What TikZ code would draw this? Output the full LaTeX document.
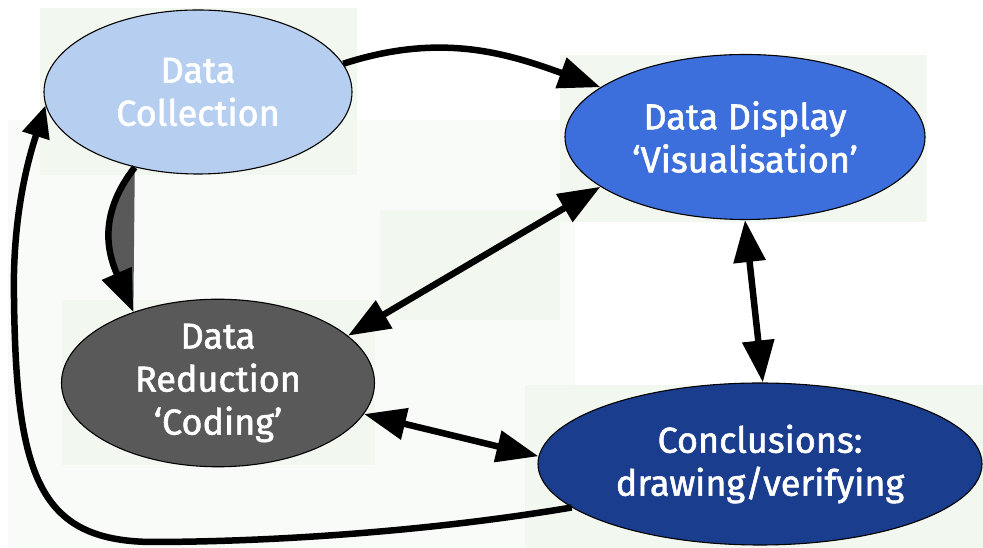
\documentclass[tikz,border=0pt]{standalone}
\usepackage{fontspec}
\setmainfont{Fira Sans}
\newfontfamily\bubfont{Fira Sans}[FakeBold=1.6]
\usetikzlibrary{arrows.meta,shapes.geometric}
\definecolor{collfill}{HTML}{B6CFF1}
\definecolor{dispfill}{HTML}{3D6FDC}
\definecolor{redfill}{HTML}{595959}
\definecolor{concfill}{HTML}{1B3D8E}
\definecolor{tintA}{HTML}{F8FBF7}
\definecolor{tintB}{HTML}{F2F8F0}
\begin{document}
\begin{tikzpicture}[x=1pt,y=1pt,
  bub/.style={ellipse, draw=black, line width=1.1pt, inner sep=0pt, text=white,
    align=center, font=\bubfont\fontsize{36}{43}\selectfont},
  conn/.style={line width=6.5pt, -{Triangle[length=42pt,width=31pt]}},
  loopconn/.style={line width=6.5pt, -{Triangle[length=32pt,width=27pt]}},
  both/.style={line width=6.5pt, {Triangle[length=42pt,width=31pt]}-{Triangle[length=42pt,width=31pt]}},
  tint/.style={fill=tintA, draw=none},
  tintb/.style={fill=tintB, draw=none}]
\useasboundingbox (0,0) rectangle (983,548);
\fill[white] (0,0) rectangle (983,548);
% faint background patches
\path[tint] (8,0) rectangle (575,428);
\path[tintb] (40,373) rectangle (357,540);
\path[tintb] (62,83) rectangle (375,248);
\path[tintb] (560,326) rectangle (927,493);
\path[tintb] (525,0) rectangle (983,163);
\path[tintb] (380,228) rectangle (560,338);
% nodes
\node[bub, fill=collfill, minimum width=308pt, minimum height=164pt] (coll) at (198,456) {Data\\Collection};
\node[bub, fill=dispfill, minimum width=360pt, minimum height=165pt] (disp) at (745,411) {Data Display\\‘Visualisation’};
\node[bub, fill=redfill, minimum width=313pt, minimum height=163pt] (red) at (218,165) {Data\\Reduction\\‘Coding’};
\node[bub, fill=concfill, minimum width=444pt, minimum height=162pt] (conc) at (760,84) {Conclusions:\\drawing/verifying};
% connectors
\draw[conn] (coll.11) to[out=18,in=160] (disp.161);
\fill[redfill] (coll.230) .. controls (95,330) and (110,290) .. (red.140) -- cycle;
\draw[conn] (coll.230) .. controls (95,330) and (110,290) .. (red.140);
\draw[both] (red.20) -- (disp.199);
\draw[both] (disp.270) -- (conc.88);
\draw[both] (red.348) -- (conc.178);
\draw[loopconn] (conc.193) .. controls (420,15) and (260,6) .. (150,6)
   .. controls (40,8) and (16,70) .. (14,250)
   .. controls (12,340) and (32,400) .. (coll.185);
\end{tikzpicture}
\end{document}
